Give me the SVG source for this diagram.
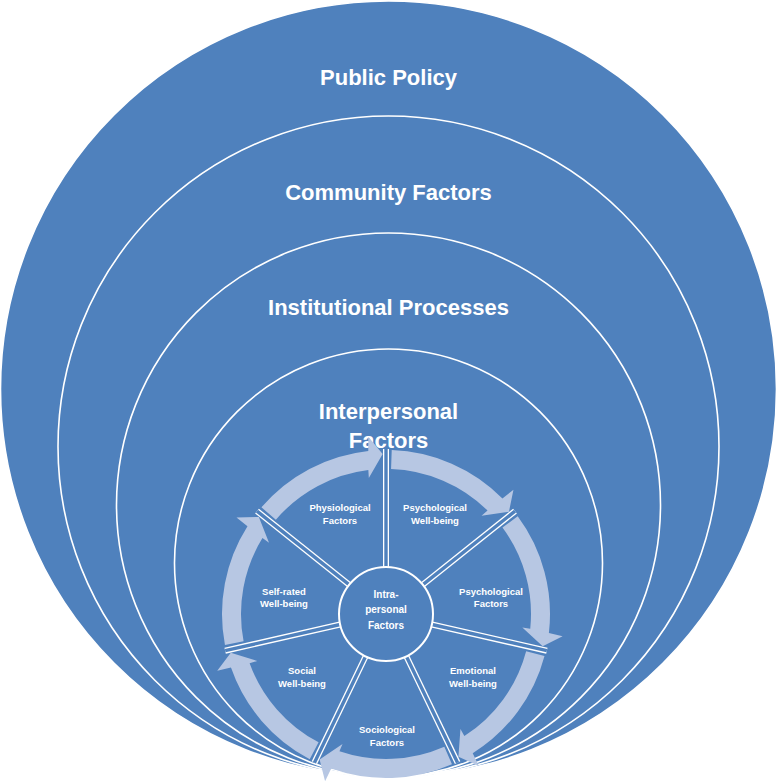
<svg xmlns="http://www.w3.org/2000/svg" width="777" height="784" viewBox="0 0 777 784">
<defs>
<style>
.ring{fill:#4F81BD;stroke:#FFFFFF;stroke-width:1.6}
.big{font-family:"Liberation Sans",Arial,sans-serif;font-weight:bold;font-size:22px;fill:#FFFFFF;text-anchor:middle}
.small{font-family:"Liberation Sans",Arial,sans-serif;font-weight:bold;font-size:9.5px;fill:#FFFFFF;text-anchor:middle}
.mid{font-family:"Liberation Sans",Arial,sans-serif;font-weight:bold;font-size:10px;fill:#FFFFFF;text-anchor:middle}
.arrow{fill:#B7C7E3}
.sw{stroke:#FFFFFF;stroke-width:6;fill:none}
.sb{stroke:#4F81BD;stroke-width:3.4;fill:none}
</style>
<path id="arr" class="arrow" d="M -124.57 -106.67 A 164 164 0 0 1 -17.71 -163.05 L -17.68 -177.13 L -3.35 -159.96 L -17.17 -135.92 L -17.67 -143.92 A 145 145 0 0 0 -110.14 -94.31 Z"/>
<g id="spk"><line class="sw" x1="0" y1="-46" x2="0" y2="-165"/><line class="sb" x1="0" y1="-46" x2="0" y2="-165"/></g>
</defs>
<rect x="0" y="0" width="777" height="784" fill="#FFFFFF"/>
<g id="public-policy">
<circle class="ring" cx="388.5" cy="389" r="388" stroke="none"/>
<text class="big" x="388.5" y="85">Public Policy</text>
</g>
<g id="community-factors">
<circle class="ring" cx="388.5" cy="446.5" r="330.5"/>
<text class="big" x="388.5" y="200">Community Factors</text>
</g>
<g id="institutional-processes">
<circle class="ring" cx="388.5" cy="505" r="272"/>
<text class="big" x="388.5" y="315">Institutional Processes</text>
</g>
<g id="interpersonal-factors">
<circle class="ring" cx="388.5" cy="563" r="214"/>
<text class="big" x="388.5" y="419">Interpersonal</text>
<text class="big" x="388.5" y="448">Factors</text>
</g>
<g id="spokes" transform="translate(386,614)">
<use href="#spk"/>
<use href="#spk" transform="rotate(51.4286)"/>
<use href="#spk" transform="rotate(102.8571)"/>
<use href="#spk" transform="rotate(154.2857)"/>
<use href="#spk" transform="rotate(205.7143)"/>
<use href="#spk" transform="rotate(257.1429)"/>
<use href="#spk" transform="rotate(308.5714)"/>
</g>
<g id="connectors" transform="translate(386,614)">
<use href="#arr"/>
<use href="#arr" transform="rotate(51.4286)"/>
<use href="#arr" transform="rotate(102.8571)"/>
<use href="#arr" transform="rotate(154.2857)"/>
<use href="#arr" transform="rotate(205.7143)"/>
<use href="#arr" transform="rotate(257.1429)"/>
<use href="#arr" transform="rotate(308.5714)"/>
</g>
<g id="intrapersonal-factors">
<circle cx="386" cy="614" r="47" fill="#4F81BD" stroke="#FFFFFF" stroke-width="2"/>
<text class="mid" x="386" y="597.5">Intra-</text>
<text class="mid" x="386" y="613">personal</text>
<text class="mid" x="386" y="628.5">Factors</text>
</g>
<g id="physiological-factors">
<text class="small" x="340" y="511.3">Physiological</text>
<text class="small" x="340" y="524">Factors</text>
</g>
<g id="psychological-well-being">
<text class="small" x="435" y="511.3">Psychological</text>
<text class="small" x="435" y="524">Well-being</text>
</g>
<g id="psychological-factors">
<text class="small" x="491" y="594.5">Psychological</text>
<text class="small" x="491" y="607.3">Factors</text>
</g>
<g id="emotional-well-being">
<text class="small" x="473" y="674">Emotional</text>
<text class="small" x="473" y="686.8">Well-being</text>
</g>
<g id="sociological-factors">
<text class="small" x="387" y="733">Sociological</text>
<text class="small" x="387" y="745.8">Factors</text>
</g>
<g id="social-well-being">
<text class="small" x="302" y="674">Social</text>
<text class="small" x="302" y="686.8">Well-being</text>
</g>
<g id="self-rated-well-being">
<text class="small" x="284" y="594.5">Self-rated</text>
<text class="small" x="284" y="607.3">Well-being</text>
</g>
</svg>
